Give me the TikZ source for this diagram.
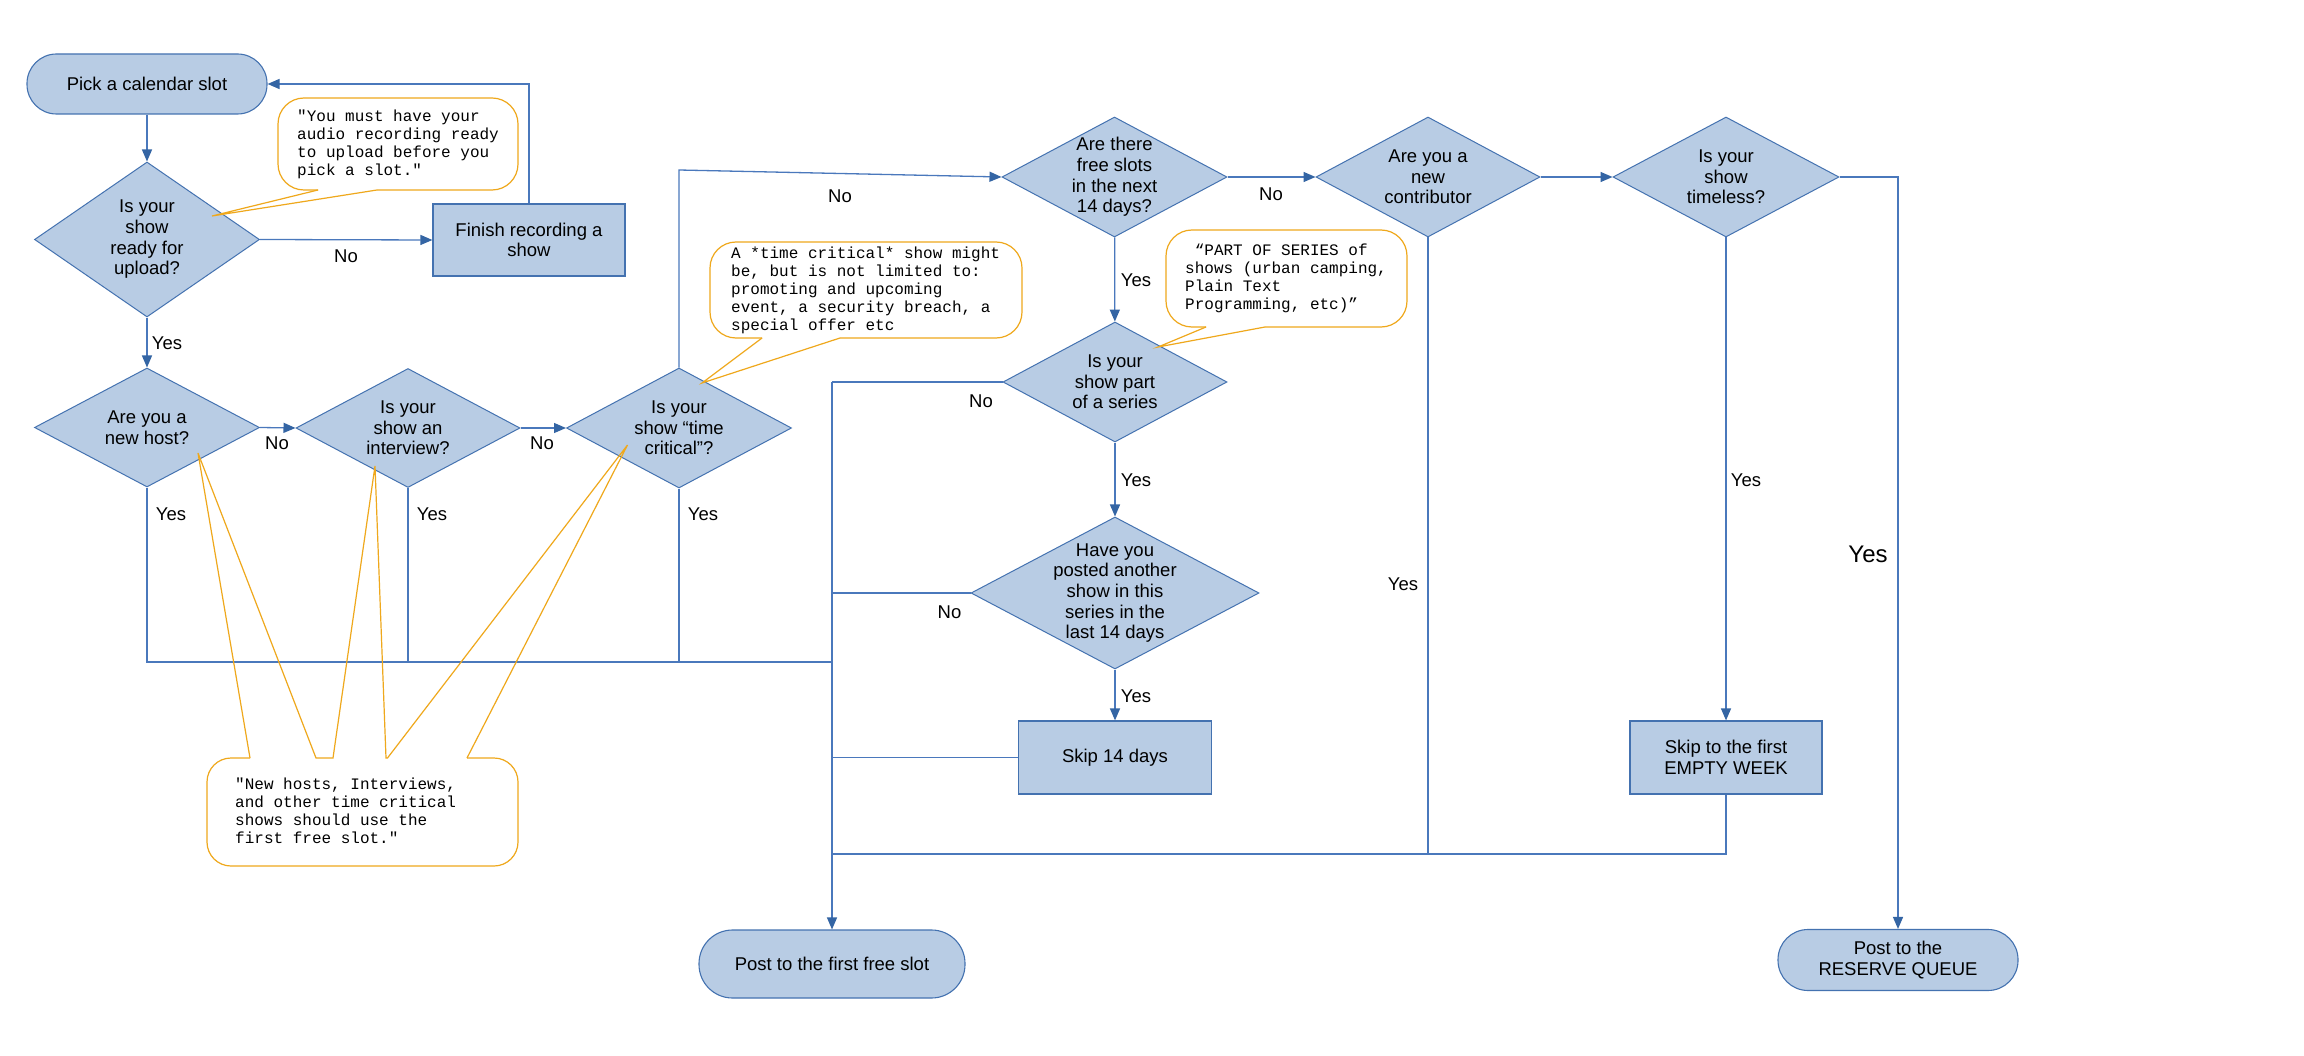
\documentclass[tikz,border=0pt]{standalone}
\usepackage{fontspec}
\setmainfont{Liberation Sans}
\newfontfamily\monof{Liberation Mono}
\usetikzlibrary{shapes.geometric,arrows.meta}
\definecolor{fillc}{HTML}{B8CCE4}
\definecolor{bordc}{HTML}{4472B0}
\definecolor{linec}{HTML}{4A78BC}
\definecolor{tipc}{HTML}{3465A4}
\definecolor{orng}{HTML}{EFA81C}
\tikzset{
  txt/.style={font=\fontsize{18.5}{20.7}\selectfont, inner sep=0pt, align=center},
  mono/.style={font=\monof\fontsize{16}{18}\selectfont, inner sep=0pt, align=left, anchor=west},
  dia/.style={diamond, draw=bordc, fill=fillc, line width=1pt, inner sep=0pt},
  proc/.style={rectangle, draw=bordc, fill=fillc, line width=1.2pt, inner sep=0pt, txt},
  term/.style={rectangle, draw=bordc, fill=fillc, line width=1.1pt, inner sep=0pt, txt},
  conn/.style={draw=linec, line width=1.3pt},
  arr/.style={conn, -{Triangle[length=12pt,width=10pt,fill=tipc,color=tipc]}},
  callout/.style={draw=orng, line width=1.2pt},
}
\begin{document}
\begin{tikzpicture}[x=1pt,y=-1pt]
\useasboundingbox[fill=white] (0,0) rectangle (2304,1056);

% ---------- shapes ----------
\node[term, minimum width=240pt, minimum height=60pt, rounded corners=29.5pt] (pick) at (147,84) {Pick a calendar slot};
\node[dia, minimum width=225pt, minimum height=155pt] (d1) at (147,239.5) {};
\node[txt] (d1t) at (d1) {Is your\\show\\ready for\\upload?};
\node[proc, minimum width=192pt, minimum height=72pt] (finish) at (529,240) {Finish recording a\\show};
\node[dia, minimum width=225pt, minimum height=119pt] (d2) at (147,427.5) {};
\node[txt] (d2t) at (d2) {Are you a\\new host?};
\node[dia, minimum width=224pt, minimum height=119pt] (d3) at (408,428) {};
\node[txt] (d3t) at (d3) {Is your\\show an\\interview?};
\node[dia, minimum width=225pt, minimum height=120pt] (d4) at (679,428) {};
\node[txt] (d4t) at (d4) {Is your\\show “time\\critical”?};
\node[dia, minimum width=225pt, minimum height=120pt] (free) at (1114.5,177) {};
\node[txt] (freet) at (free) {Are there\\free slots\\in the next\\14 days?};
\node[dia, minimum width=224pt, minimum height=120pt] (contrib) at (1428,177) {};
\node[txt] (contribt) at (contrib) {Are you a\\new\\contributor};
\node[dia, minimum width=226pt, minimum height=120pt] (timeless) at (1726,177) {};
\node[txt] (timelesst) at (timeless) {Is your\\show\\timeless?};
\node[dia, minimum width=224pt, minimum height=120pt] (series) at (1115,382) {};
\node[txt] (seriest) at (series) {Is your\\show part\\of a series};
\node[dia, minimum width=288pt, minimum height=152pt] (posted) at (1115,593) {};
\node[txt] (postedt) at (posted) {Have you\\posted another\\show in this\\series in the\\last 14 days};
\node[proc, minimum width=193pt, minimum height=73pt] (skip) at (1115,757.5) {Skip 14 days};
\node[proc, minimum width=192pt, minimum height=73pt] (empty) at (1726,757.5) {Skip to the first\\EMPTY WEEK};
\node[term, minimum width=266pt, minimum height=68pt, rounded corners=33.5pt] (post) at (832,964) {Post to the first free slot};
\node[term, minimum width=240pt, minimum height=61pt, rounded corners=30pt] (reserve) at (1898,960) {Post to the\\RESERVE QUEUE};

% ---------- junction coordinates ----------
\coordinate (c4) at (679,170);
\coordinate (t1) at (832,382);
\coordinate (j) at (832,662);
\coordinate (b) at (832,854);
\coordinate (r1) at (1898,177);

% ---------- connectors ----------
\draw[arr] (pick) -- (d1);
\draw[arr] (d1.east) -- (finish.west);
\draw[arr] (finish.north) |- (pick.east);
\draw[arr] (d1) -- (d2);
\draw[arr] (d2.east) -- (d3.west);
\draw[arr] (d3.east) -- (d4.west);
\draw[arr] (d4.north) -- (c4) -- (free.west);
\draw[conn] (d2.south) |- (j);
\draw[conn] (d3.south) -- (d3.south |- j);
\draw[conn] (d4.south) -- (d4.south |- j);
\draw[conn] (series.west) -- (t1);
\draw[arr] (t1) -- (post.north);
\draw[conn] (posted.west) -- (posted.west -| t1);
\draw[conn] (skip.west) -- (skip.west -| t1);
\draw[arr] (free) -- (series);
\draw[arr] (series) -- (posted);
\draw[arr] (posted) -- (skip);
\draw[arr] (free.east) -- (contrib.west);
\draw[arr] (contrib.east) -- (timeless.west);
\draw[conn] (contrib.south) -- (contrib.south |- b);
\draw[conn] (empty.south) |- (b);
\draw[arr] (timeless) -- (empty);
\draw[arr] (timeless.east) -- (r1) -- (reserve.north);

% ---------- labels ----------
\node[txt] (lno1) at (346,256) {No};
\node[txt] (lyes1) at (167,343) {Yes};
\node[txt] (lno2) at (277,443) {No};
\node[txt] (lno3) at (542,443) {No};
\node[txt] (lyes2) at (171,514) {Yes};
\node[txt] (lyes3) at (432,514) {Yes};
\node[txt] (lyes4) at (703,514) {Yes};
\node[txt] (lno4) at (840,196) {No};
\node[txt] (lyes5) at (1136,280) {Yes};
\node[txt] (lno5) at (981,401) {No};
\node[txt] (lyes6) at (1136,480) {Yes};
\node[txt] (lno6) at (949.5,612) {No};
\node[txt] (lyes7) at (1136,696) {Yes};
\node[txt] (lno7) at (1271,194) {No};
\node[txt] (lyes8) at (1403,584) {Yes};
\node[txt] (lyes9) at (1746,480) {Yes};
\node[txt, font=\fontsize{24}{28}\selectfont] (lyes10) at (1868,554) {Yes};

% ---------- callouts ----------
% callout 1
\draw[callout, fill=white, rounded corners=26pt] (377,190) -- (518,190) -- (518,98) -- (278,98) -- (278,190) -- (318,190);
\draw[callout] (318,190) -- (212,216) -- (377,190);
\node[mono] (n1) at (297,144) {"You must have your\\audio recording ready\\to upload before you\\pick a slot."};
% callout 2
\draw[callout, fill=white, rounded corners=26pt] (840,338) -- (1022,338) -- (1022,242) -- (710,242) -- (710,338) -- (762,338);
\draw[callout] (762,338) -- (702,383) -- (840,338);
\node[mono] (n2) at (731,290) {A *time critical* show might\\be, but is not limited to:\\promoting and upcoming\\event, a security breach, a\\special offer etc};
% callout 3
\draw[callout, fill=white, rounded corners=26pt] (1265,327) -- (1407,327) -- (1407,230) -- (1166,230) -- (1166,327) -- (1206,327);
\draw[callout] (1206,327) -- (1158,347) -- (1265,327);
\node[mono] (n3) at (1185,278) {\phantom{x}“PART OF SERIES of\\shows (urban camping,\\Plain Text\\Programming, etc)”};
% callout 4
\draw[callout, fill=white, rounded corners=24pt] (250,758) -- (207,758) -- (207,866) -- (518,866) -- (518,758) -- (467,758);
\draw[callout] (250,758) -- (198,453) -- (316,758) -- (333,758) -- (375,466) -- (386,758) -- (387.5,758) -- (627.5,445) -- (467,758);
\node[mono] (n4) at (235,811) {"New hosts, Interviews,\\and other time critical\\shows should use the\\first free slot."};
\end{tikzpicture}
\end{document}
